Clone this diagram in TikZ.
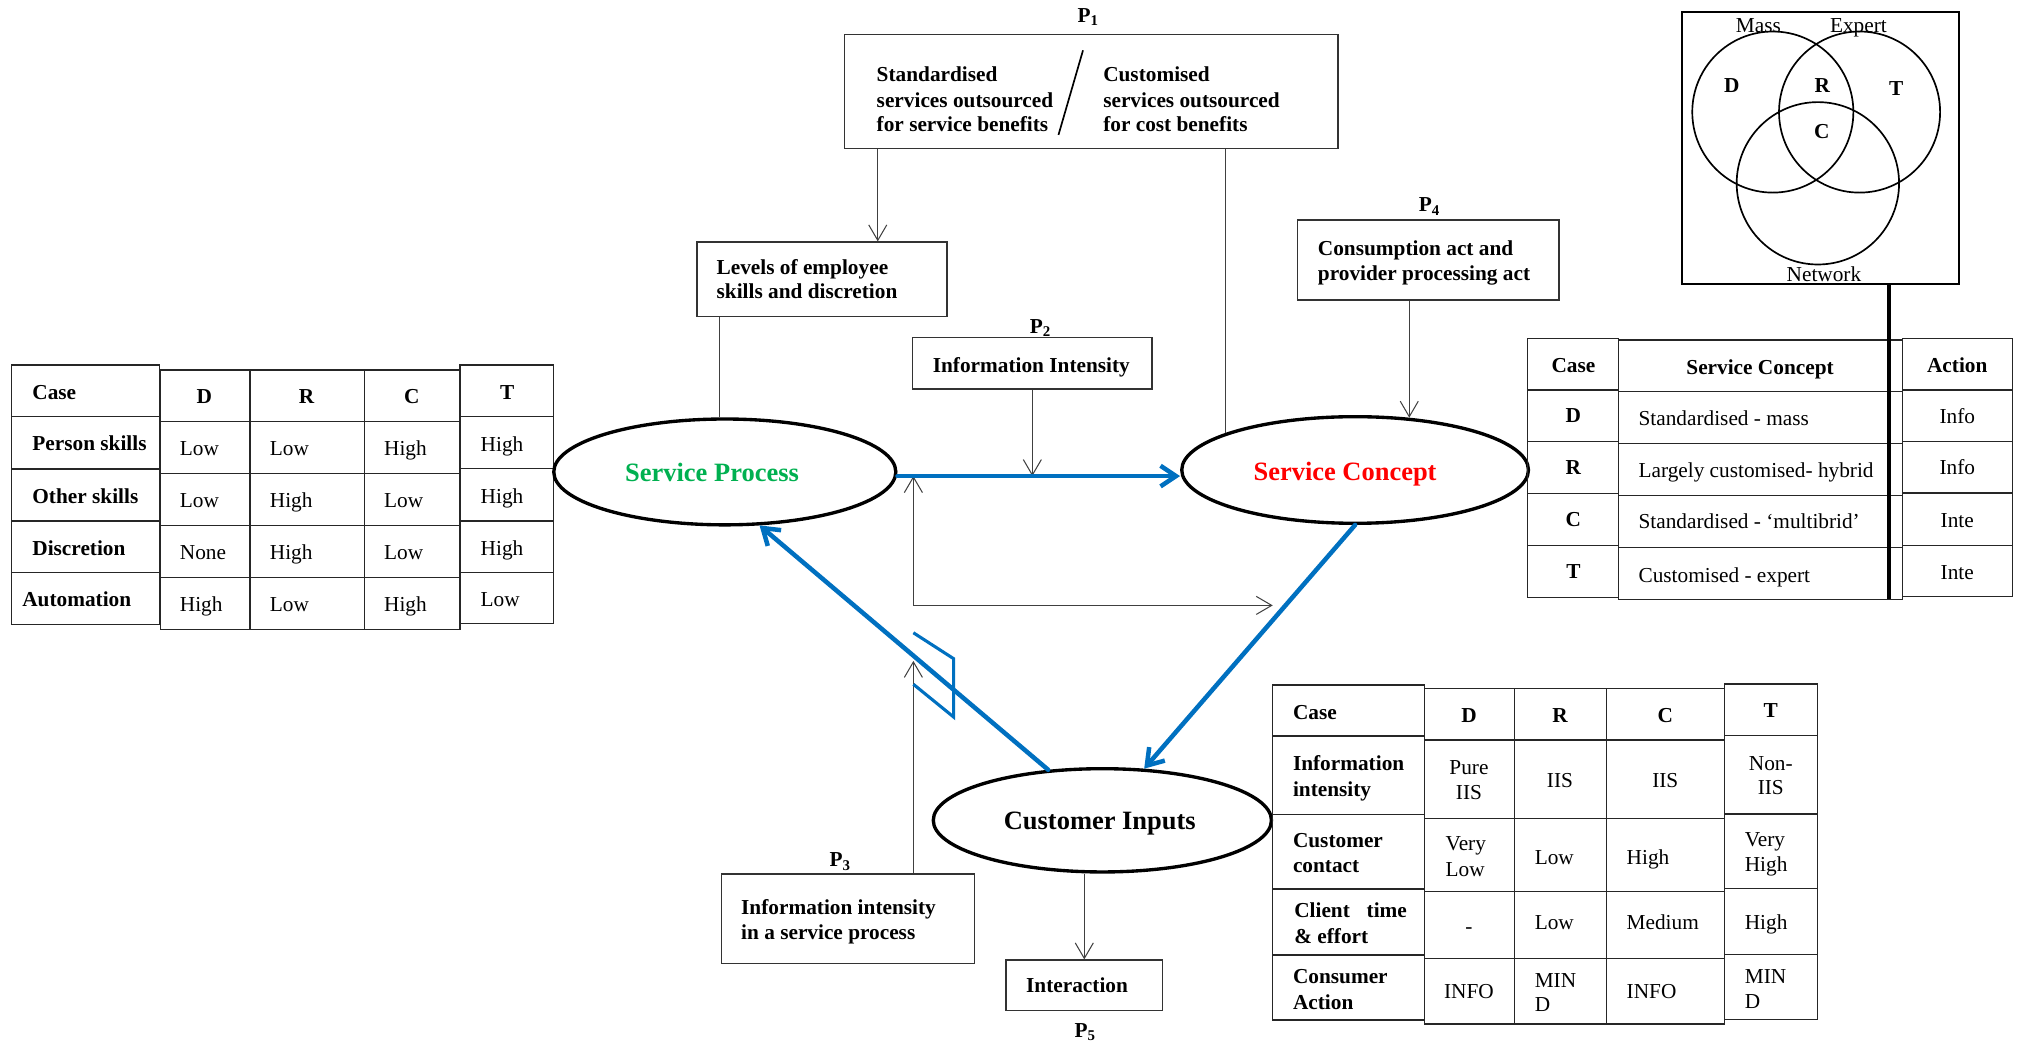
\documentclass[tikz,border=0pt]{standalone}
\usepackage{fontspec}
\setmainfont{Liberation Serif}
\usetikzlibrary{arrows.meta,shapes.geometric}
\definecolor{flowblue}{HTML}{0070C0}
\definecolor{procgreen}{HTML}{00B050}
\definecolor{conceptred}{HTML}{FF0000}
\newcommand\fsN{\fontsize{16.5}{19}\selectfont}
\newcommand\fsL{\fontsize{20.5}{24}\selectfont}
% text helpers: name, x, baseline y, text
\newcommand\txtL[4]{\node[txt,anchor=base west] (#1) at (#2,#3) {#4};}
\newcommand\txtC[4]{\node[txt,anchor=base] (#1) at (#2,#3) {#4};}

\begin{document}
\begin{tikzpicture}[x=1pt,y=-1pt,
  txt/.style={inner sep=0pt,font=\fsN},
  tab/.style={draw=black!85,line width=1pt},
  box/.style={draw=black!80,line width=1pt,inner sep=0pt},
  oval/.style={ellipse,draw=black,line width=2.6pt,inner sep=0pt},
  thinln/.style={draw=black!75,line width=0.8pt},
  thinarr/.style={thinln,-{Straight Barb[length=12pt,width=14pt]}},
  bluearr/.style={draw=flowblue,line width=3.5pt,line cap=round,-{Straight Barb[length=12pt,width=16pt]}},
  venn/.style={draw=black,line width=1.3pt}
]
\useasboundingbox (0,0) rectangle (1568,809);

% ---------------- left table: employee skills ----------------
\draw[tab] (9.1,282.8) rectangle (123.7,483.7);
\foreach \y in {322.8,363.3,403.6,443.4} \draw[tab] (9.1,\y) -- (123.7,\y);
\draw[tab] (124.5,286.6) rectangle (356.4,487.6);
\foreach \x in {193.7,282.2} \draw[tab] (\x,286.6) -- (\x,487.6);
\foreach \y in {326.7,366.7,407.2,447.5} \draw[tab] (124.5,\y) -- (356.4,\y);
\draw[tab] (356.4,282.8) rectangle (428.9,483);
\foreach \y in {322.8,362.8,403.6,443.4} \draw[tab] (356.4,\y) -- (428.9,\y);

\txtL{lc0}{24.9}{309.4}{\bfseries Case}
\txtL{lc1}{24.9}{348.9}{\bfseries Person skills}
\txtL{lc2}{24.9}{389.8}{\bfseries Other skills}
\txtL{lc3}{24.9}{430.3}{\bfseries Discretion}
\txtL{lc4}{17.1}{469.6}{\bfseries Automation}
\txtC{lhD}{158.3}{312.8}{\bfseries D}
\txtC{lhR}{237.4}{312.8}{\bfseries R}
\txtC{lhC}{319}{312.8}{\bfseries C}
\txtC{lhT}{392.9}{309.4}{\bfseries T}
\txtL{l11}{139.2}{352.8}{Low}  \txtL{l12}{208.9}{352.8}{Low}  \txtL{l13}{297.4}{352.8}{High} \txtL{l14}{372.2}{349.7}{High}
\txtL{l21}{139.2}{392.9}{Low}  \txtL{l22}{208.9}{392.9}{High} \txtL{l23}{297.4}{392.9}{Low}  \txtL{l24}{372.2}{390.3}{High}
\txtL{l31}{139.2}{433.4}{None} \txtL{l32}{208.9}{433.4}{High} \txtL{l33}{297.4}{433.4}{Low}  \txtL{l34}{372.2}{430.3}{High}
\txtL{l41}{139.2}{473.4}{High} \txtL{l42}{208.9}{473.4}{Low}  \txtL{l43}{297.4}{473.4}{High} \txtL{l44}{372.2}{469.8}{Low}

% ---------------- P1 box ----------------
\txtC{p1lab}{843}{17.5}{\bfseries P\textsubscript{1}}
\node[box,minimum width=382.5pt,minimum height=88.5pt] (p1) at (845.25,70.75) {};
\txtL{p1a}{679}{63.5}{\bfseries Standardised}
\txtL{p1b}{679}{83}{\bfseries services outsourced}
\txtL{p1c}{679}{101.5}{\bfseries for service benefits}
\txtL{p1d}{854.5}{63.5}{\bfseries Customised}
\txtL{p1e}{854.5}{83}{\bfseries services outsourced}
\txtL{p1f}{854.5}{101.5}{\bfseries for cost benefits}
\coordinate (sl1) at (839,39);
\coordinate (sl2) at (820,104.5);
\draw[line width=1.3pt] (sl1) -- (sl2);

% ---------------- employee skills box ----------------
\node[box,minimum width=193.6pt,minimum height=57.5pt] (lev) at (636.8,216.25) {};
\txtL{leva}{555}{212.9}{\bfseries Levels of employee}
\txtL{levb}{555}{231.5}{\bfseries skills and discretion}

% ---------------- P2 box ----------------
\txtC{p2lab}{806}{258}{\bfseries P\textsubscript{2}}
\node[box,minimum width=185.5pt,minimum height=39.8pt] (ii) at (799.75,281.5) {};
\txtC{iit}{799}{288.5}{\bfseries Information Intensity}

% ---------------- P4 box ----------------
\txtC{p4lab}{1107.3}{164}{\bfseries P\textsubscript{4}}
\node[box,minimum width=202.8pt,minimum height=62pt] (p4) at (1106.4,201.4) {};
\txtL{p4a}{1020.8}{197.9}{\bfseries Consumption act and}
\txtL{p4b}{1020.8}{217.3}{\bfseries provider processing act}

% ---------------- P3 box ----------------
\txtC{p3lab}{650.8}{671.5}{\bfseries P\textsubscript{3}}
\node[box,minimum width=195.8pt,minimum height=69.2pt] (p3) at (656.9,711.7) {};
\txtL{p3a}{574}{708.4}{\bfseries Information intensity}
\txtL{p3b}{574}{728}{\bfseries in a service process}

% ---------------- P5 box ----------------
\node[box,minimum width=121.3pt,minimum height=39.3pt] (inter) at (840,763.4) {};
\txtL{intt}{794.8}{769.1}{\bfseries Interaction}
\txtC{p5lab}{840.6}{803.5}{\bfseries P\textsubscript{5}}

% ---------------- the three ovals ----------------
\node[oval,minimum width=265pt,minimum height=82pt] (sp) at (561.5,365.6) {};
\node[txt,font=\fsL\bfseries,text=procgreen,anchor=base] (spt) at (551.6,373.3) {Service Process};
\node[oval,minimum width=268.6pt,minimum height=82.6pt] (sc) at (1049.8,364.1) {};
\node[txt,font=\fsL\bfseries,text=conceptred,anchor=base] (sct) at (1042,372.2) {Service Concept};
\node[oval,minimum width=262pt,minimum height=80pt] (ci) at (854,635.5) {};
\node[txt,font=\fsL\bfseries,anchor=base] (cit) at (852,642.8) {Customer Inputs};

% ---------------- thin connectors ----------------
\coordinate (c1) at (680,0);
\draw[thinarr] (p1.south -| c1) -- (lev.north -| c1);
\draw[thinln] (p1.south -| sc.164.6) -- (sc.164.6);
\draw[thinln] (lev.south -| sp.96) -- (sp.96);
\coordinate (bl) at ([yshift=-3.2pt]sp.east);
\draw[thinarr] (ii.south) -- (ii.south |- bl);
\draw[thinarr] (p4.south -| sc.44) -- (sc.44);
\coordinate (c6) at (707.6,512);
\draw[thinarr] (p3.north -| c6) -- (c6);
\coordinate (c7) at (707.6,469);
\coordinate (c8) at (986,469);
\draw[thinarr] (c7) -- (c7 |- bl);
\draw[thinarr] (c7) -- (c8);
\draw[thinarr] (inter.north |- ci.south) -- (inter.north);

% ---------------- blue flow ----------------
\draw[bluearr] (bl) -- ([yshift=-4.7pt]sc.west);
\draw[bluearr] (sc.south) -- (ci.51);
\draw[bluearr] (ci.137) -- (sp.-57);
\coordinate (j1) at (707.6,490.2);
\coordinate (j2) at (738.8,510.3);
\coordinate (j3) at (738.8,555.5);
\coordinate (j4) at (707.6,530.1);
\draw[draw=flowblue,line width=2.4pt] (j1) -- (j2) -- (j3) -- (j4);

% ---------------- Venn box ----------------
\node[box,draw=black,line width=1.5pt,minimum width=214.4pt,minimum height=211.3pt] (venn) at (1410.5,114.65) {};
\draw[venn] (1373.4,86.8) circle[radius=62.4pt];
\draw[venn] (1440.6,86.8) circle[radius=62.4pt];
\draw[venn] (1408.3,142) circle[radius=62.9pt];
\txtC{vm}{1362.2}{25.5}{Mass}
\txtC{ve}{1439.7}{25.4}{Expert}
\txtC{vn}{1413}{217.7}{Network}
\txtC{vd}{1341.6}{72}{\bfseries D}
\txtC{vr}{1411.8}{72}{\bfseries R}
\txtC{vt}{1468.9}{73.8}{\bfseries T}
\txtC{vc}{1411.3}{107.5}{\bfseries C}

% ---------------- service concept table ----------------
\draw[tab] (1183.2,262.1) rectangle (1253.7,462.8);
\foreach \y in {302.1,342.2,382.2,422.7} \draw[tab] (1183.2,\y) -- (1253.7,\y);
\draw[tab] (1253.7,263.4) rectangle (1473.8,464.3);
\foreach \y in {303.4,343.5,384,424.3} \draw[tab] (1253.7,\y) -- (1473.8,\y);
\draw[tab] (1473.8,262.1) rectangle (1559,462.2);
\foreach \y in {302.1,341.9,382,422.6} \draw[tab] (1473.8,\y) -- (1559,\y);
\coordinate (vx) at (1463.4,464.3);
\draw[line width=3.2pt] (venn.south -| vx) -- (vx);

\txtC{rc0}{1218.9}{288.3}{\bfseries Case}
\txtC{rc1}{1218.9}{327.6}{\bfseries D}
\txtC{rc2}{1218.9}{367.7}{\bfseries R}
\txtC{rc3}{1218.9}{407.7}{\bfseries C}
\txtC{rc4}{1218.9}{448.2}{\bfseries T}
\txtC{rs0}{1363.5}{290.1}{\bfseries Service Concept}
\txtL{rs1}{1269.2}{329.6}{Standardised - mass}
\txtL{rs2}{1269.2}{369.6}{Largely customised- hybrid}
\txtL{rs3}{1269.2}{409.7}{Standardised - ‘multibrid’}
\txtL{rs4}{1269.2}{451}{Customised - expert}
\txtC{ra0}{1516.3}{288.3}{\bfseries Action}
\txtC{ra1}{1516.3}{327.8}{Info}
\txtC{ra2}{1516.3}{367.8}{Info}
\txtC{ra3}{1516.3}{408.9}{Inte}
\txtC{ra4}{1516.3}{449.2}{Inte}

% ---------------- customer inputs table ----------------
\draw[tab] (986,530.7) rectangle (1103.4,790.2);
\foreach \y in {570.2,630.9,688.7,739.8} \draw[tab] (986,\y) -- (1103.4,\y);
\draw[tab] (1103.4,533.3) rectangle (1335.8,793.3);
\foreach \x in {1173.3,1244.5} \draw[tab] (\x,533.3) -- (\x,793.3);
\foreach \y in {573.3,634,690.8,742.4} \draw[tab] (1103.4,\y) -- (1335.8,\y);
\draw[tab] (1335.8,529.9) rectangle (1407.9,789.7);
\foreach \y in {569.9,630.6,688.2,739.3} \draw[tab] (1335.8,\y) -- (1407.9,\y);

\txtL{bc0}{1001.5}{557.4}{\bfseries Case}
\txtL{bc1a}{1001.5}{596.9}{\bfseries Information}
\txtL{bc1b}{1001.5}{616.8}{\bfseries intensity}
\txtL{bc2a}{1001.5}{656.3}{\bfseries Customer}
\txtL{bc2b}{1001.5}{675.6}{\bfseries contact}
\txtL{bc3a}{1002.5}{711}{\bfseries Client\hspace{13pt}time}
\txtL{bc3b}{1002.5}{730.6}{\bfseries \& effort}
\txtL{bc4a}{1001.5}{762.1}{\bfseries Consumer}
\txtL{bc4b}{1001.5}{782}{\bfseries Action}
\txtC{bhD}{1138}{559.4}{\bfseries D}
\txtC{bhR}{1208.5}{559.4}{\bfseries R}
\txtC{bhC}{1290.1}{559.4}{\bfseries C}
\txtC{bhT}{1371.8}{556.1}{\bfseries T}
\txtC{b11a}{1138}{600.2}{Pure}
\txtC{b11b}{1138}{619.3}{IIS}
\txtC{b12}{1208.5}{609.8}{IIS}
\txtC{b13}{1290.1}{609.8}{IIS}
\txtC{b14a}{1371.8}{596.9}{Non-}
\txtC{b14b}{1371.8}{615.5}{IIS}
\txtL{b21a}{1119.8}{658.8}{Very}
\txtL{b21b}{1119.8}{678.7}{Low}
\txtL{b22}{1188.8}{669.7}{Low}
\txtL{b23}{1260}{669.7}{High}
\txtL{b24a}{1351.5}{655.5}{Very}
\txtL{b24b}{1351.5}{674.9}{High}
\txtC{b31}{1138}{723.4}{-}
\txtL{b32}{1188.8}{720}{Low}
\txtL{b33}{1260}{720}{Medium}
\txtL{b34}{1351.5}{720}{High}
\txtC{b41}{1138}{773.8}{INFO}
\txtL{b42a}{1188.8}{765.2}{MIN}
\txtL{b42b}{1188.8}{783.5}{D}
\txtL{b43}{1260}{773.8}{INFO}
\txtL{b44a}{1351.5}{761.6}{MIN}
\txtL{b44b}{1351.5}{781}{D}
\end{tikzpicture}
\end{document}
